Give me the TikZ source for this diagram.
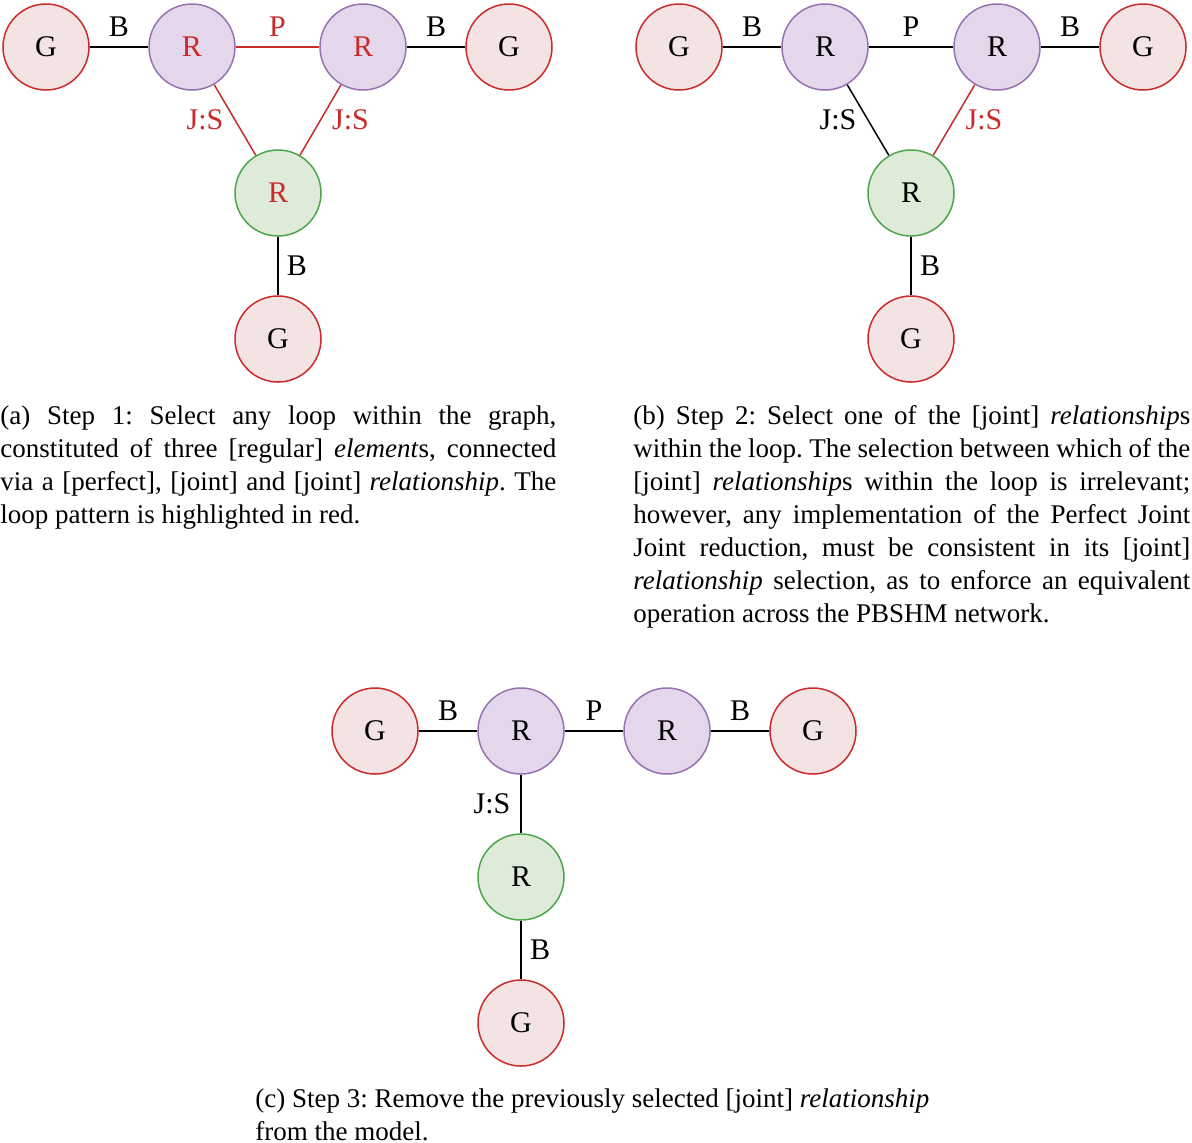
\documentclass[tikz,border=0pt]{standalone}
\usepackage{fontspec}
\setmainfont{Liberation Serif}
\frenchspacing
\definecolor{gfill}{HTML}{F3E3E3}
\definecolor{gdraw}{HTML}{CC2B2B}
\definecolor{rfill}{HTML}{E4D7EB}
\definecolor{rdraw}{HTML}{9673B0}
\definecolor{grfill}{HTML}{DDEBD8}
\definecolor{grdraw}{HTML}{4CA64C}
\definecolor{hl}{HTML}{C92A2A}
\newcommand{\nodefnt}{\fontsize{15}{18}\selectfont}
\newcommand{\capfnt}{\fontsize{13.5}{16.5}\selectfont\frenchspacing}
\newcommand{\lbr}{\linebreak\relax}
\tikzset{
  elem/.style={circle, minimum size=43pt, inner sep=0pt, line width=0.75pt, font=\nodefnt},
  gnode/.style={elem, draw=gdraw, fill=gfill},
  rnode/.style={elem, draw=rdraw, fill=rfill},
  grnode/.style={elem, draw=grdraw, fill=grfill},
  conn/.style={line width=0.75pt},
  lbl/.style={font=\nodefnt, inner sep=0pt},
  toplbl/.style={lbl, midway, yshift=10pt},
  leftlbl/.style={lbl, midway, xshift=-15pt},
  rightlbl/.style={lbl, midway, xshift=15pt},
  vlbl/.style={lbl, midway, xshift=9.5pt},
  capbox/.style={inner sep=0pt, font=\capfnt, anchor=north west}
}
\begin{document}
\begin{tikzpicture}[x=0.5pt,y=-0.5pt]
\useasboundingbox (0,0) rectangle (1192,1142);
% (a)
\node[gnode] (ag1) at (46,47) {G};
\node[rnode, text=hl] (ar1) at (192,47) {R};
\node[rnode, text=hl] (ar2) at (363,47) {R};
\node[gnode] (ag2) at (509,47) {G};
\node[grnode, text=hl] (ar3) at (278,193) {R};
\node[gnode] (ag3) at (278,339) {G};
\draw[conn] (ag1) -- node[toplbl] (alb1) {B} (ar1);
\draw[conn, hl] (ar1) -- node[toplbl, text=hl] (alp) {P} (ar2);
\draw[conn] (ar2) -- node[toplbl] (alb2) {B} (ag2);
\draw[conn, hl] (ar1) -- node[leftlbl, text=hl] (alj1) {J:S} (ar3);
\draw[conn, hl] (ar2) -- node[rightlbl, text=hl] (alj2) {J:S} (ar3);
\draw[conn] (ar3) -- node[vlbl] (alb3) {B} (ag3);
% (b)
\node[gnode] (bg1) at (679,47) {G};
\node[rnode] (br1) at (825,47) {R};
\node[rnode] (br2) at (997,47) {R};
\node[gnode] (bg2) at (1143,47) {G};
\node[grnode] (br3) at (911,193) {R};
\node[gnode] (bg3) at (911,339) {G};
\draw[conn] (bg1) -- node[toplbl] (blb1) {B} (br1);
\draw[conn] (br1) -- node[toplbl] (blp) {P} (br2);
\draw[conn] (br2) -- node[toplbl] (blb2) {B} (bg2);
\draw[conn] (br1) -- node[leftlbl] (blj1) {J:S} (br3);
\draw[conn, hl] (br2) -- node[rightlbl, text=hl] (blj2) {J:S} (br3);
\draw[conn] (br3) -- node[vlbl] (blb3) {B} (bg3);
% (c)
\node[gnode] (cg1) at (375,731) {G};
\node[rnode] (cr1) at (521,731) {R};
\node[rnode] (cr2) at (667,731) {R};
\node[gnode] (cg2) at (813,731) {G};
\node[grnode] (cr3) at (521,877) {R};
\node[gnode] (cg3) at (521,1023) {G};
\draw[conn] (cg1) -- node[toplbl] (clb1) {B} (cr1);
\draw[conn] (cr1) -- node[toplbl] (clp) {P} (cr2);
\draw[conn] (cr2) -- node[toplbl] (clb2) {B} (cg2);
\draw[conn] (cr1) -- node[leftlbl, xshift=0.5pt] (clj) {J:S} (cr3);
\draw[conn] (cr3) -- node[vlbl] (clb3) {B} (cg3);
% captions
\node[capbox, text width=278pt, align=justify] (capa) at (0,401) {\strut(a) Step 1: Select any loop within the graph,\lbr constituted of three [regular] \textit{element}s, connected\lbr via a [perfect], [joint] and [joint] \textit{relationship}. The\lbr loop pattern is highlighted in red.};
\node[capbox, text width=278.5pt, align=justify] (capb) at (633,401) {\strut(b) Step 2: Select one of the [joint] \textit{relationship}s\lbr within the loop. The selection between which of the\lbr [joint] \textit{relationship}s within the loop is irrelevant;\lbr however, any implementation of the Perfect Joint\lbr Joint reduction, must be consistent in its [joint]\lbr \textit{relationship} selection, as to enforce an equivalent\lbr operation across the PBSHM network.};
\node[capbox, align=left] (capc) at (255,1084) {\strut(c) Step 3: Remove the previously selected [joint] \textit{relationship}\\ from the model.};
\end{tikzpicture}
\end{document}
